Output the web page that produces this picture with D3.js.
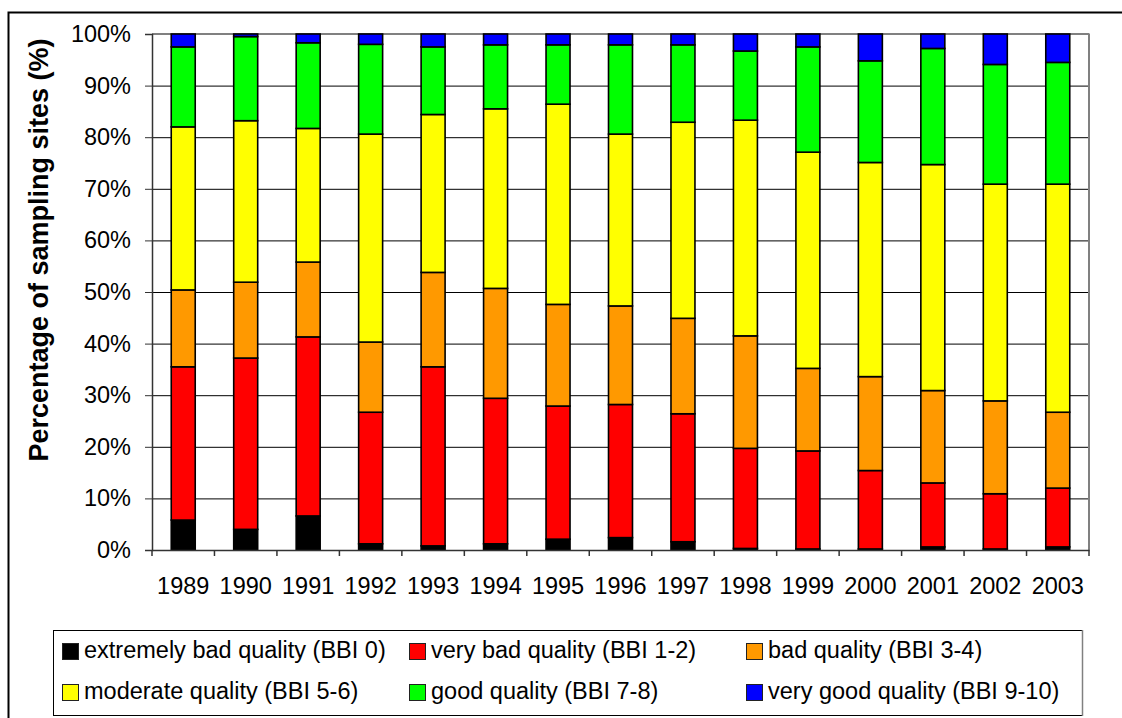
<!DOCTYPE html>
<html>
<head>
<meta charset="utf-8">
<script src="https://cdn.jsdelivr.net/npm/d3@7"></script>
<style>
html,body{margin:0;padding:0;background:#fff;}
svg{display:block;}
text{font-family:"Liberation Sans",Arial,sans-serif;}
</style>
</head>
<body>
<svg id="chart" width="1122" height="718"></svg>
<script>
const years = ["1989","1990","1991","1992","1993","1994","1995","1996","1997","1998","1999","2000","2001","2002","2003"];
const extremelyBad = [5.8,4.0,6.6,1.2,0.8,1.2,2.1,2.4,1.6,0.3,0.2,0.2,0.6,0.2,0.6];
const veryBad      = [29.7,33.2,34.7,25.5,34.7,28.2,25.8,25.8,24.8,19.4,19.0,15.2,12.4,10.7,11.4];
const bad          = [14.9,14.7,14.5,13.6,18.3,21.3,19.7,19.1,18.5,21.8,16.0,18.2,17.9,18.0,14.7];
const moderate     = [31.6,31.3,25.9,40.3,30.6,34.8,38.8,33.3,38.0,41.8,41.9,41.5,43.8,42.0,44.2];
const good         = [15.5,16.3,16.6,17.4,13.1,12.4,11.5,17.3,15.0,13.4,20.4,19.7,22.5,23.2,23.6];
const veryGood     = [2.5,0.5,1.7,2.0,2.5,2.1,2.1,2.1,2.1,3.3,2.5,5.2,2.8,5.9,5.5];
const seriesNames  = ["extremely bad quality (BBI 0)","very bad quality (BBI 1-2)","bad quality (BBI 3-4)","moderate quality (BBI 5-6)","good quality (BBI 7-8)","very good quality (BBI 9-10)"];
const seriesColors = ["#000000","#FF0000","#FF9900","#FFFF00","#00FF00","#0000FF"];
const yTicks = [0,10,20,30,40,50,60,70,80,90,100];

const seriesValues = [extremelyBad, veryBad, bad, moderate, good, veryGood];
const keys = seriesNames.map((d,i)=>"s"+i);
const table = years.map((y,j)=>{
  const row = {year:y};
  keys.forEach((k,i)=>row[k]=seriesValues[i][j]);
  return row;
});

const svg = d3.select("#chart");
const L = 152, R = 1089, T = 34, B = 550;

// outer frame
svg.append("rect").attr("x",8.5).attr("y",12.5).attr("width",1130).attr("height",720)
  .attr("fill","none").attr("stroke","#000").attr("stroke-width",2);

const x = d3.scaleBand().domain(years).range([L,R]).paddingInner(0.616).paddingOuter(0.308);
const y = d3.scaleLinear().domain([0,100]).range([B,T]);

// gridlines
svg.append("g").selectAll("line").data(yTicks.filter(d=>d>0 && d<100)).join("line")
  .attr("x1",L).attr("x2",R).attr("y1",d=>y(d)+0.5).attr("y2",d=>y(d)+0.5)
  .attr("stroke","#000").attr("stroke-width",1);

// plot area border top/right
svg.append("line").attr("x1",L).attr("x2",R+0.5).attr("y1",T).attr("y2",T).attr("stroke","#808080").attr("stroke-width",2);
svg.append("line").attr("x1",R).attr("x2",R).attr("y1",T).attr("y2",B).attr("stroke","#808080").attr("stroke-width",2);

// stacked bars
const stack = d3.stack().keys(keys);
const stacked = stack(table);
svg.append("g").selectAll("g").data(stacked).join("g")
  .attr("fill",(d,i)=>seriesColors[i])
  .selectAll("rect").data(d=>d).join("rect")
  .attr("x",d=>x(d.data.year))
  .attr("width",x.bandwidth())
  .attr("y",d=>y(d[1]))
  .attr("height",d=>Math.max(0,y(d[0])-y(d[1])))
  .attr("stroke","#000").attr("stroke-width",1.6);

// y axis
const yAxis = d3.axisLeft(y).tickValues(yTicks).tickFormat(d=>d+"%").tickSize(7).tickPadding(14);
const gy = svg.append("g").attr("transform",`translate(${L},0)`).call(yAxis);
gy.select(".domain").attr("stroke","#333").attr("stroke-width",1.5);
gy.selectAll(".tick line").attr("stroke","#333");
gy.selectAll("text").attr("font-size",23.5).attr("fill","#000")
  .style("font-family","'Liberation Sans',Arial,sans-serif");

// x axis
const xAxis = d3.axisBottom(x).tickSize(0).tickPadding(27);
const gx = svg.append("g").attr("transform",`translate(0,${B})`).call(xAxis);
gx.select(".domain").attr("stroke","#333").attr("stroke-width",1.5);
gx.selectAll("text").attr("font-size",23.5).attr("fill","#000")
  .style("font-family","'Liberation Sans',Arial,sans-serif");
// boundary ticks
const bounds = d3.range(years.length+1).map(i=>L + i*x.step());
gx.append("g").selectAll("line").data(bounds).join("line")
  .attr("x1",d=>d).attr("x2",d=>d).attr("y1",0).attr("y2",6)
  .attr("stroke","#333").attr("stroke-width",1.5);

// y title
svg.append("text")
  .attr("transform","translate(48,250) rotate(-90)")
  .attr("text-anchor","middle")
  .attr("font-size",27).attr("font-weight","bold")
  .text("Percentage of sampling sites (%)");

// legend
svg.append("rect").attr("x",53.5).attr("y",630.5).attr("width",1029).attr("height",85)
  .attr("fill","#fff").attr("stroke","#000").attr("stroke-width",1);
svg.append("line").attr("x1",1082.5).attr("x2",1082.5).attr("y1",630).attr("y2",716)
  .attr("stroke","#808080").attr("stroke-width",1.5);
const colX = [62, 409, 746];
const rowY = [643, 684];
const leg = svg.append("g").selectAll("g").data(seriesNames).join("g")
  .attr("transform",(d,i)=>`translate(${colX[i%3]},${rowY[Math.floor(i/3)]})`);
leg.append("rect").attr("x",0.5).attr("y",0.5).attr("width",16).attr("height",16)
  .attr("fill",(d,i)=>seriesColors[i]).attr("stroke","#222").attr("stroke-width",1);
leg.append("text").attr("x",22).attr("y",15).attr("font-size",23.5).text(d=>d);
</script>
</body>
</html>
